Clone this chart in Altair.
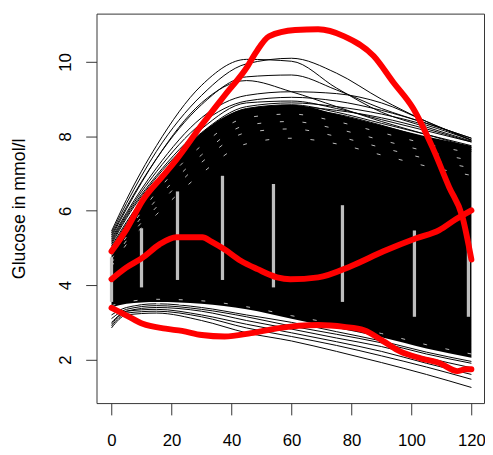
import altair as alt
import pandas as pd

# time grid (minutes) shared by the black individual curves
T = [0, 5, 15, 30, 45, 60, 75, 90, 105, 120]

# dense core of curves: lower / upper edge of the solid black mass
core_hi = [4.95, 5.6, 6.8, 8.1, 8.75, 8.85, 8.6, 8.3, 8.0, 7.75]
core_lo = [3.4, 3.5, 3.55, 3.5, 3.35, 3.1, 2.85, 2.6, 2.3, 2.05]

# individual curves above the dense core
upper_curves = [
    [5.45, 6.3, 7.75, 9.37, 10.07, 10.02, 9.3, 8.65, 8.25, 7.87],
    [5.4, 6.2, 7.6, 9.1, 9.95, 10.1, 9.7, 9.0, 8.4, 7.9],
    [5.35, 6.1, 7.4, 8.85, 9.6, 9.65, 9.25, 8.75, 8.35, 7.95],
    [5.3, 6.05, 7.4, 8.9, 9.5, 9.2, 8.8, 8.4, 8.05, 7.7],
    [5.25, 5.95, 7.15, 8.5, 9.1, 9.2, 9.15, 8.9, 8.4, 7.9],
    [5.2, 5.9, 7.05, 8.35, 8.95, 9.05, 8.95, 8.7, 8.35, 7.95],
    [5.15, 5.85, 6.95, 8.2, 8.9, 8.95, 8.75, 8.45, 8.15, 7.85],
    [5.1, 5.8, 6.9, 8.1, 8.8, 8.9, 8.8, 8.6, 8.3, 7.9],
    [5.05, 5.7, 6.8, 8.0, 8.75, 8.85, 8.65, 8.35, 8.05, 7.75],
    [5.0, 5.65, 6.75, 7.95, 8.7, 8.8, 8.7, 8.5, 8.2, 7.85],
    [4.95, 5.6, 6.7, 7.9, 8.6, 8.75, 8.6, 8.3, 7.95, 7.65],
    [4.9, 5.55, 6.65, 7.85, 8.55, 8.7, 8.55, 8.25, 7.9, 7.6],
]

# individual curves below the dense core
lower_curves = [
    [2.85, 3.2, 3.25, 3.05, 2.72, 2.5, 2.22, 1.92, 1.6, 1.25],
    [2.9, 3.25, 3.3, 3.15, 2.85, 2.62, 2.38, 2.1, 1.8, 1.47],
    [2.95, 3.3, 3.35, 3.2, 2.95, 2.72, 2.48, 2.22, 1.9, 1.6],
    [3.0, 3.3, 3.4, 3.3, 3.05, 2.82, 2.58, 2.35, 2.05, 1.78],
    [3.1, 3.35, 3.45, 3.35, 3.15, 2.9, 2.68, 2.45, 2.15, 1.9],
    [3.2, 3.4, 3.5, 3.4, 3.2, 3.0, 2.75, 2.5, 2.2, 1.95],
]

# small gaps between curves inside the dense mass (white specks)
gap_curves = [
    [4.8, 5.4, 6.5, 7.75, 8.5, 8.6, 8.4, 8.1, 7.8, 7.55],
    [4.7, 5.3, 6.3, 7.5, 8.3, 8.4, 8.2, 7.9, 7.6, 7.35],
    [4.6, 5.2, 6.1, 7.3, 8.1, 8.2, 8.0, 7.7, 7.4, 7.15],
    [4.5, 5.1, 5.9, 7.0, 7.8, 7.95, 7.8, 7.5, 7.2, 6.95],
    [3.35, 3.45, 3.5, 3.45, 3.3, 3.05, 2.8, 2.55, 2.25, 2.0],
    [3.45, 3.55, 3.62, 3.58, 3.42, 3.18, 2.95, 2.7, 2.4, 2.15],
]

# grey vertical bars
bar_t = [0, 10, 22, 37, 54, 77, 101, 119]
bar_lo = [3.55, 3.94, 4.14, 4.14, 3.94, 3.55, 3.15, 3.15]
bar_hi = [4.75, 5.53, 6.52, 6.94, 6.72, 6.15, 5.47, 5.2]

# red curves
red_up_t = [0, 5, 10.4, 17.5, 21.3, 30.1, 37.7, 45.4, 48.1, 52.5, 61.2, 68.9,
            77.6, 87.4, 94, 100.6, 107.1, 112.6, 117, 120]
red_up_v = [4.91, 5.5, 6.28, 6.97, 7.34, 8.31, 9.10, 9.89, 10.25, 10.69, 10.86,
            10.88, 10.69, 10.16, 9.45, 8.75, 7.69, 6.63, 5.84, 4.69]
red_mid_t = [0, 4.9, 10.4, 15.9, 21.6, 30.3, 33.3, 37.5, 43.2, 48.7, 55.2, 59.6,
             68.9, 79.8, 90.7, 101.6, 109.3, 114.8, 120]
red_mid_v = [4.16, 4.47, 4.74, 5.09, 5.29, 5.29, 5.17, 4.97, 4.65, 4.43, 4.21,
             4.16, 4.21, 4.51, 4.91, 5.26, 5.48, 5.77, 6.01]
red_low_t = [0, 4.9, 10.4, 18, 23.5, 30.1, 37.7, 46.5, 55.2, 68.9, 77.6, 84.2,
             90.7, 96.2, 102.8, 109.3, 115.3, 118, 120]
red_low_v = [3.39, 3.19, 2.96, 2.83, 2.77, 2.66, 2.62, 2.71, 2.84, 2.93, 2.88,
             2.79, 2.49, 2.22, 2.04, 1.91, 1.69, 1.74, 1.74]

x_ticks = [0, 20, 40, 60, 80, 100, 120]
y_ticks = [2, 4, 6, 8, 10]

FONT = "Liberation Sans"

core_df = pd.DataFrame({"t": T, "lo": core_lo, "hi": core_hi})
rows = []
for i, c in enumerate(upper_curves):
    rows += [{"id": f"u{i}", "t": t, "v": v} for t, v in zip(T, c)]
for i, c in enumerate(lower_curves):
    rows += [{"id": f"l{i}", "t": t, "v": v} for t, v in zip(T, c)]
lines_df = pd.DataFrame(rows)
gap_rows = []
for i, c in enumerate(gap_curves):
    gap_rows += [{"id": f"g{i}", "t": t, "v": v} for t, v in zip(T, c)]
gap_df = pd.DataFrame(gap_rows)
bars_df = pd.DataFrame({"t": bar_t, "lo": bar_lo, "hi": bar_hi})
red_rows = []
for name, ts, vs in [("up", red_up_t, red_up_v), ("mid", red_mid_t, red_mid_v),
                     ("low", red_low_t, red_low_v)]:
    red_rows += [{"id": name, "t": t, "v": v} for t, v in zip(ts, vs)]
red_df = pd.DataFrame(red_rows)

xs = alt.Scale(domain=[-5.0, 124.2], nice=False, zero=False)
ys = alt.Scale(domain=[0.83, 11.30], nice=False, zero=False)

x_axis = alt.Axis(values=x_ticks, domain=False, grid=False, tickSize=12,
                  tickColor="#333333", labelFontSize=17, labelFont=FONT,
                  labelColor="black", labelPadding=18, title=None,
                  labelFlush=False)
y_axis = alt.Axis(values=y_ticks, domain=False, grid=False, tickSize=11,
                  tickColor="#333333", labelFontSize=17, labelFont=FONT,
                  labelColor="black", labelAngle=270, labelAlign="center",
                  labelBaseline="alphabetic", labelPadding=15,
                  title="Glucose in mmol/l", titleFont=FONT, titleFontSize=18,
                  titleFontWeight="normal", titleColor="black", titleAngle=270,
                  titleX=-78, titleY=198, titleAlign="center",
                  titleBaseline="middle", labelFlush=False)

core = alt.Chart(core_df).mark_area(color="black", interpolate="monotone").encode(
    x=alt.X("t:Q", scale=xs, axis=x_axis),
    y=alt.Y("lo:Q", scale=ys, axis=y_axis),
    y2="hi:Q",
)

curves = alt.Chart(lines_df).mark_line(color="black", strokeWidth=1,
                                       interpolate="monotone").encode(
    x=alt.X("t:Q", scale=xs),
    y=alt.Y("v:Q", scale=ys),
    detail="id:N",
)

gaps = alt.Chart(gap_df).mark_line(color="white", strokeWidth=1,
                                   strokeDash=[4, 19], opacity=0.75,
                                   interpolate="monotone").encode(
    x=alt.X("t:Q", scale=xs),
    y=alt.Y("v:Q", scale=ys),
    detail="id:N",
)

bars = alt.Chart(bars_df).mark_rule(color="#bebebe", strokeWidth=3.3).encode(
    x=alt.X("t:Q", scale=xs),
    y=alt.Y("lo:Q", scale=ys),
    y2="hi:Q",
)

red = alt.Chart(red_df).mark_line(color="#ff0000", strokeWidth=6,
                                  interpolate="monotone", strokeCap="round",
                                  strokeJoin="round").encode(
    x=alt.X("t:Q", scale=xs),
    y=alt.Y("v:Q", scale=ys),
    detail="id:N",
)

chart = alt.layer(core, curves, gaps, bars, red).properties(
    width=394, height=396,
    autosize=alt.AutoSizeParams(type="none"),
    padding={"left": 90, "top": 2, "right": 1, "bottom": 45},
).configure_view(stroke="#333333", strokeWidth=1)

chart.save("out.html", embed_options={"renderer": "svg", "actions": False})
